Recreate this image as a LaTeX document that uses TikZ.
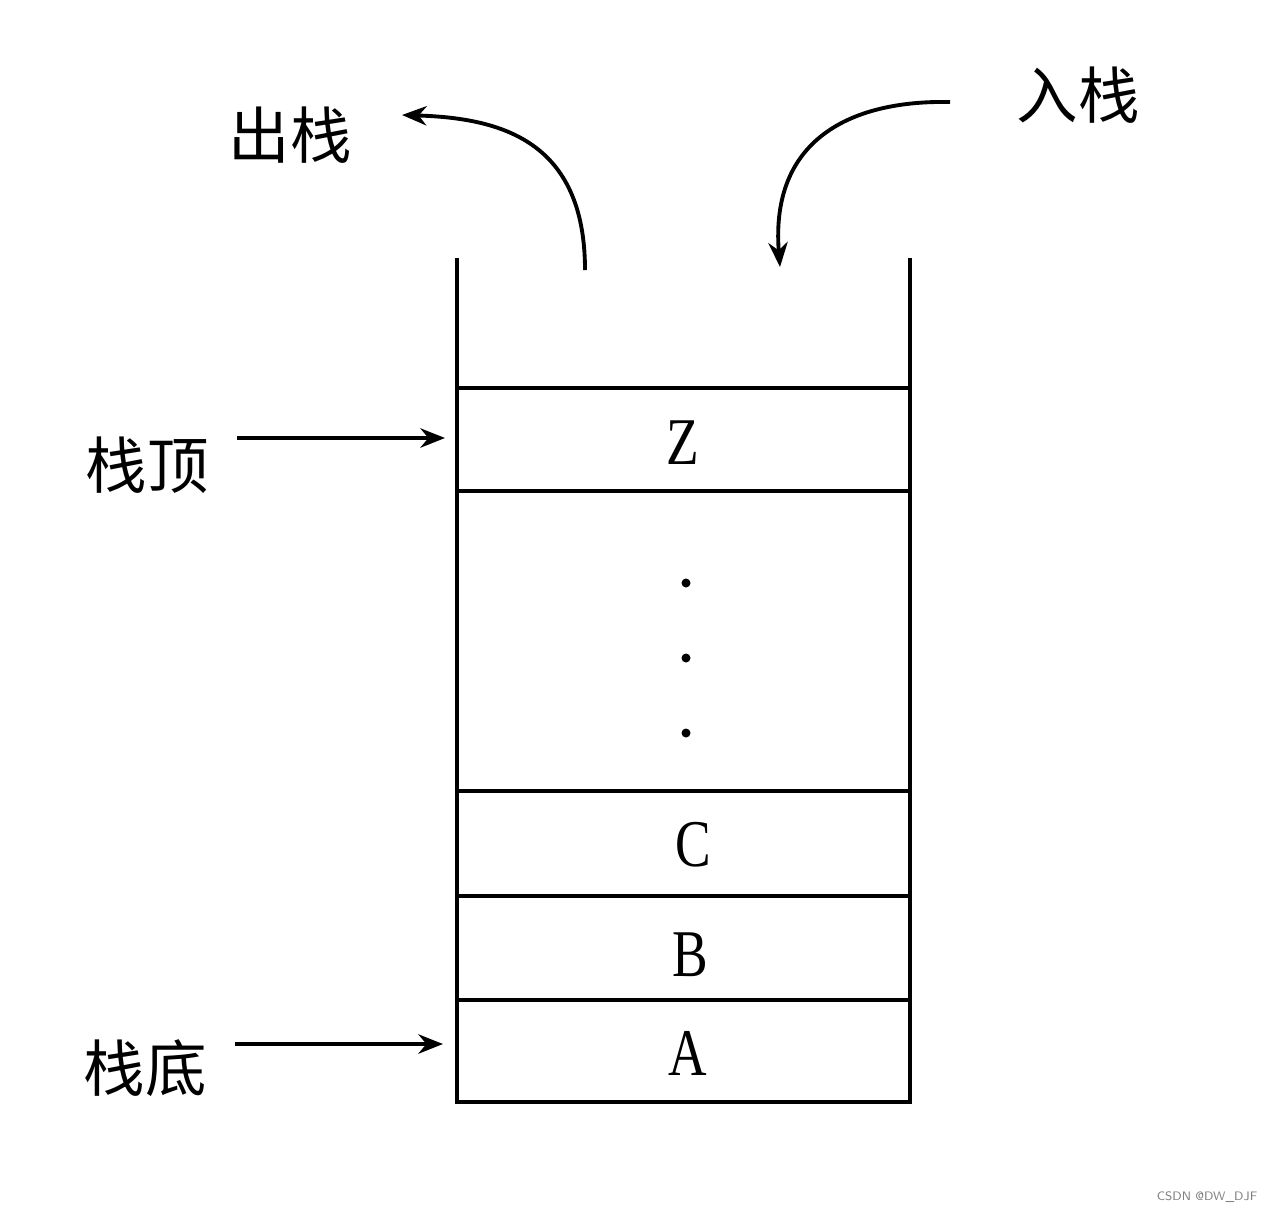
\documentclass[tikz,border=0pt]{standalone}
\usetikzlibrary{arrows.meta}
\usepackage{fontspec}
\setmainfont{Liberation Serif}
\newfontfamily\cjk{Noto Sans CJK SC}
\begin{document}
\begin{tikzpicture}[x=0.02cm,y=-0.02cm,
  wall/.style={line width=1.8pt},
  arr/.style={line width=2.2pt,-{Stealth[length=14pt,width=11pt]}},
  lab/.style={font=\cjk\fontsize{35}{38}\selectfont},
  let/.style={font=\fontsize{38}{42}\selectfont}]
\useasboundingbox (0,0) rectangle (1266,1214);
\draw[wall] (457,258) -- (457,1102) -- (910,1102) -- (910,258);
\foreach \y in {388,491,791,896,1000} \draw[wall] (457,\y) -- (910,\y);
\node[let,xscale=0.8] (z) at (683,443) {Z};
\node[let,xscale=0.8] (c) at (693,845) {C};
\node[let,xscale=0.8] (b) at (690,955) {B};
\node[let,xscale=0.8] (a) at (688,1053) {A};
\foreach \y in {583,658,733} \fill (686,\y) circle (4.5);
\node[lab] (top) at (147,465) {栈顶};
\node[lab] (bot) at (145,1068) {栈底};
\node[lab] (out) at (290,135) {出栈};
\node[lab] (in) at (1078,95) {入栈};
\coordinate (ts) at (237,438); \coordinate (te) at (445,438);
\coordinate (bs) at (235,1044); \coordinate (be) at (443,1044);
\draw[arr] (ts) -- (te);
\draw[arr] (bs) -- (be);
\coordinate (os) at (585,270); \coordinate (oe) at (402,115);
\draw[arr] (os) .. controls (585,140) and (500,118) .. (oe);
\coordinate (is) at (950,102); \coordinate (ie) at (780,267);
\draw[arr] (is) .. controls (850,100) and (770,140) .. (ie);
\node[font=\fontsize{7}{8}\selectfont\sffamily,text=gray] (wm) at (1207,1197) {CSDN @DW\_DJF};
\end{tikzpicture}
\end{document}
